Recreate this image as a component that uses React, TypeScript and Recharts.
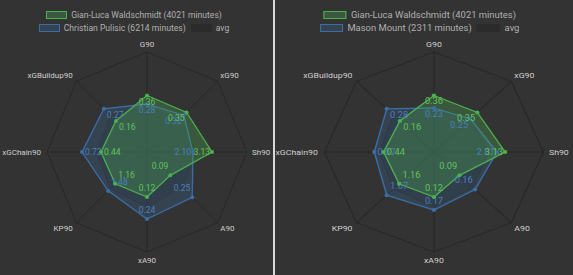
import { RadarChart, PolarGrid, PolarAngleAxis, PolarRadiusAxis, Radar } from "recharts";

const axes = ["G90", "xG90", "Sh90", "A90", "xA90", "KP90", "xGChain90", "xGBuildup90"];

// raw per-90 values shown as point labels
const waldschmidtValues = [0.36, 0.35, 3.13, 0.09, 0.12, 1.16, 0.44, 0.16];
const pulisicValues = [0.28, 0.32, 2.1, 0.25, 0.24, 1.48, 0.72, 0.27];
const mountValues = [0.23, 0.25, 2.81, 0.16, 0.17, 1.67, 0.57, 0.28];

// scaled positions (0-1 of the axis)
const waldschmidtScaled = [0.565, 0.56, 0.65, 0.33, 0.45, 0.45, 0.46, 0.44];
const pulisicScaled = [0.48, 0.52, 0.46, 0.64, 0.67, 0.55, 0.65, 0.61];
const mountScaled = [0.44, 0.47, 0.575, 0.53, 0.58, 0.61, 0.545, 0.61];
const avgScaled = [0.45, 0.47, 0.5, 0.5, 0.55, 0.52, 0.5, 0.52];

const GREEN = "#4caf50";
const BLUE = "#3b6ea8";
const AVG = "#262626";
const FONT = "Roboto, 'Liberation Sans', sans-serif";

const makeDot = (values: number[], color: string, labelColor: string) => (props: any) => {
  const { cx, cy, index } = props;
  const a = ((90 - index * 45) * Math.PI) / 180;
  const c = Math.cos(a);
  const s = Math.sin(a);
  const anchor = c > 0.1 ? "end" : c < -0.1 ? "start" : "middle";
  const dx = c > 0.1 ? -2 : c < -0.1 ? 3 : 0;
  const dy = s > 0.1 ? 6 : s < -0.1 ? -9 : 0;
  return (
    <g key={`dot-${index}`}>
      <circle cx={cx} cy={cy} r={2} fill={color} />
      <text
        x={cx + dx}
        y={cy + dy}
        textAnchor={anchor}
        dominantBaseline="central"
        fill={labelColor}
        fontSize={8.5}
        fontFamily={FONT}
      >
        {values[index].toFixed(2)}
      </text>
    </g>
  );
};

const AxisTick = (props: any) => {
  const { x, y, textAnchor, payload } = props;
  const dx = textAnchor === "start" ? -3 : textAnchor === "end" ? 2 : 0;
  return (
    <text
      x={x + dx}
      y={y}
      textAnchor={textAnchor}
      dominantBaseline="central"
      fill="#cfcfcf"
      fontSize={8}
      fontFamily={FONT}
    >
      {payload.value}
    </text>
  );
};

const Swatch = ({ color, fill }: { color: string; fill: string }) => (
  <span
    style={{
      display: "inline-block",
      width: 19,
      height: 6,
      border: `1.5px solid ${color}`,
      background: fill,
      marginRight: 4,
    }}
  />
);

function Panel({ name, values, scaled }: { name: string; values: number[]; scaled: number[] }) {
  const data = axes.map((axis, i) => ({
    axis,
    gian: waldschmidtScaled[i],
    other: scaled[i],
    avg: avgScaled[i],
  }));
  const legendText = { color: "#b0b0b0", fontSize: 8.6, fontFamily: FONT };
  return (
    <div style={{ position: "relative", width: 273, height: 275 }}>
      <div style={{ position: "absolute", top: 8, left: 0, width: 268, textAlign: "center", ...legendText }}>
        <div style={{ height: 13, display: "flex", alignItems: "center", justifyContent: "center" }}>
          <Swatch color={GREEN} fill="rgba(76,175,80,0.3)" />
          <span>Gian-Luca Waldschmidt (4021 minutes)</span>
        </div>
        <div style={{ height: 13, display: "flex", alignItems: "center", justifyContent: "center" }}>
          <Swatch color={BLUE} fill="rgba(59,110,168,0.25)" />
          <span style={{ marginRight: 5 }}>{name}</span>
          <Swatch color="#2c2c2c" fill="#2b2b2b" />
          <span>avg</span>
        </div>
      </div>
      <RadarChart width={273} height={275} cx={147} cy={152} outerRadius={100} data={data}>
        <PolarGrid stroke="#272727" gridType="polygon" polarRadius={[100]} />
        <PolarAngleAxis dataKey="axis" tick={<AxisTick />} tickLine={false} axisLine={false} />
        <PolarRadiusAxis domain={[0, 1]} tick={false} axisLine={false} />
        <Radar
          dataKey="avg"
          stroke="#2a2a2a"
          strokeWidth={1}
          fill={AVG}
          fillOpacity={0.3}
          isAnimationActive={false}
        />
        <Radar
          dataKey="other"
          stroke={BLUE}
          strokeWidth={1.3}
          fill={BLUE}
          fillOpacity={0.25}
          dot={makeDot(values, BLUE, "#4b7fbb")}
          isAnimationActive={false}
        />
        <Radar
          dataKey="gian"
          stroke={GREEN}
          strokeWidth={1.3}
          fill={GREEN}
          fillOpacity={0.3}
          dot={makeDot(waldschmidtValues, GREEN, "#62c25a")}
          isAnimationActive={false}
        />
      </RadarChart>
    </div>
  );
}

export default function App() {
  return (
    <div
      style={{
        position: "absolute",
        top: 0,
        left: 0,
        width: 573,
        height: 275,
        background: "#333333",
        overflow: "hidden",
      }}
    >
      <div style={{ position: "absolute", left: 0, top: 0 }}>
        <Panel name="Christian Pulisic (6214 minutes)" values={pulisicValues} scaled={pulisicScaled} />
      </div>
      <div style={{ position: "absolute", left: 273, top: 0, transform: "scaleX(1.095)", transformOrigin: "0 0" }}>
        <Panel name="Mason Mount (2311 minutes)" values={mountValues} scaled={mountScaled} />
      </div>
      <div style={{ position: "absolute", left: 273, top: 0, width: 1.5, height: 275, background: "#d8d8d8" }} />
    </div>
  );
}
